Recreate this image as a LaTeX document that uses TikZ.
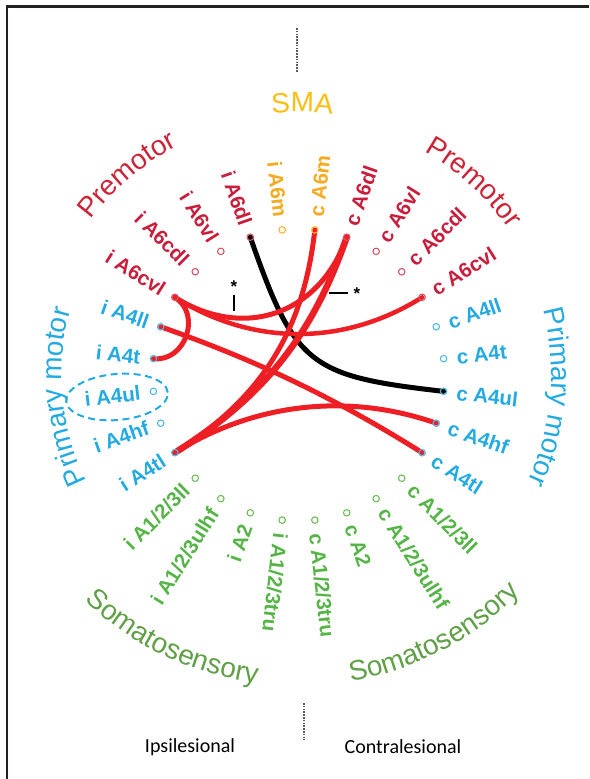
\documentclass[tikz,border=0pt]{standalone}
\usepackage{fontspec}
\setmainfont{Liberation Sans}
\newfontfamily\calib{Carlito}
\usetikzlibrary{calc,decorations.text,shapes.geometric,backgrounds}
\definecolor{pmL}{RGB}{200,30,60}
\definecolor{pmD}{RGB}{215,85,105}
\definecolor{pmG}{RGB}{205,35,55}
\definecolor{smaL}{RGB}{248,170,30}
\definecolor{smaD}{RGB}{248,180,60}
\definecolor{smaG}{RGB}{252,190,20}
\definecolor{mL}{RGB}{35,170,225}
\definecolor{mD}{RGB}{80,185,230}
\definecolor{mG}{RGB}{35,170,225}
\definecolor{sL}{RGB}{85,180,70}
\definecolor{sD}{RGB}{110,190,90}
\definecolor{sG}{RGB}{95,160,70}
\definecolor{edgered}{RGB}{237,30,36}
\definecolor{framecol}{RGB}{35,31,32}
\definecolor{dotgray}{RGB}{90,90,90}
\newcommand\grpfont{\fontsize{28}{30}\selectfont}
\newcommand\rnode[4]{%
  \node[dot=#4] (#2) at (#1:146) {};
  \node[lab=#4, anchor=west, rotate=#1] (#2-l) at (#1:159) {#3};}
\newcommand\lnode[4]{%
  \node[dot=#4] (#2) at (#1:146) {};
  \node[lab=#4, anchor=east, rotate=#1+180] (#2-l) at (#1:159) {#3};}
\newcommand\chordline[4][]{%
  \draw[edge,#1] (#2.center) .. controls ($(#2.center)!#4!(O)$) and ($(#3.center)!#4!(O)$) .. (#3.center);}
\begin{document}
\begin{tikzpicture}[x=1pt,y=1pt,
  dot/.style={circle, draw=#1D, line width=1.1pt, minimum size=6.5pt, inner sep=0pt},
  lab/.style={text=#1L, font=\bfseries\fontsize{20.5}{22}\selectfont, inner sep=0pt, text height=14.6pt, text depth=0pt},
  edge/.style={draw=edgered, line width=5pt, line cap=round},
  tick/.style={draw=black, line width=2pt},
  star/.style={font=\bfseries\fontsize{17}{17}\selectfont, inner sep=0pt},
  dotline/.style={draw=dotgray, line width=1.6pt, dash pattern=on 1.6pt off 1.2pt},
  bottomlab/.style={font=\calib\fontsize{20}{22}\selectfont, text=black}]
\useasboundingbox (-298.5,-404) rectangle (290.5,375);
\draw[framecol, line width=2.5pt] (-291.5,-404) -- (-291.5,368.5) -- (290.5,368.5);
\coordinate (O) at (0,0);

% right side (contralesional)
\rnode{83.5714}{cA6m}{c A6m}{sma}
\rnode{70.7143}{cA6dl}{c A6dl}{pm}
\rnode{57.8571}{cA6vl}{c A6vl}{pm}
\rnode{45}{cA6cdl}{c A6cdl}{pm}
\rnode{32.1429}{cA6cvl}{c A6cvl}{pm}
\rnode{19.2857}{cA4ll}{c A4ll}{m}
\rnode{6.4286}{cA4t}{c A4t}{m}
\rnode{-6.4286}{cA4ul}{c A4ul}{m}
\rnode{-19.2857}{cA4hf}{c A4hf}{m}
\rnode{-32.1429}{cA4tl}{c A4tl}{m}
\rnode{-45}{cSll}{c A1/2/3ll}{s}
\rnode{-57.8571}{cSulhf}{c A1/2/3ulhf}{s}
\rnode{-70.7143}{cStwo}{c A2}{s}
\rnode{-83.5714}{cStru}{c A1/2/3tru}{s}

% left side (ipsilesional)
\lnode{96.4286}{iA6m}{i A6m}{sma}
\lnode{109.2857}{iA6dl}{i A6dl}{pm}
\lnode{122.1429}{iA6vl}{i A6vl}{pm}
\lnode{135}{iA6cdl}{i A6cdl}{pm}
\lnode{147.8571}{iA6cvl}{i A6cvl}{pm}
\lnode{160.7143}{iA4ll}{i A4ll}{m}
\lnode{173.5714}{iA4t}{i A4t}{m}
\lnode{186.4286}{iA4ul}{i A4ul}{m}
\lnode{199.2857}{iA4hf}{i A4hf}{m}
\lnode{212.1429}{iA4tl}{i A4tl}{m}
\lnode{225}{iSll}{i A1/2/3ll}{s}
\lnode{237.8571}{iSulhf}{i A1/2/3ulhf}{s}
\lnode{250.7143}{iStwo}{i A2}{s}
\node[dot=s] (iStru) at (263.5714:146) {};
\node[lab=s, anchor=west, rotate=-96.4286] (iStru-l) at (263.5714:159) {i A1/2/3tru};

% dashed ellipse around i A4ul
\node[draw=mL, ellipse, line width=2pt, dash pattern=on 7pt off 4.5pt, minimum width=102pt, minimum height=46pt, rotate=5] (ell) at (-181.5,-22) {};

% connections
\begin{scope}[on background layer]
\chordline[draw=black, line width=5pt]{iA6dl}{cA4ul}{0.93}
\chordline[line width=4.5pt]{iA6cvl}{cA6cvl}{0.63}
\chordline{iA6cvl}{cA6dl}{0.56}
\chordline{iA6cvl}{iA4t}{0.22}
\chordline{iA4tl}{cA4hf}{0.64}
\chordline[line width=5pt]{iA4tl}{cA6m}{0.70}
\chordline[line width=6.5pt]{iA4tl}{cA6dl}{0.72}
\chordline{iA4ll}{cA4tl}{0.70}
\end{scope}

% significance marks
\coordinate (t1a) at (-64.5,80);
\coordinate (t1b) at (-64.5,64);
\draw[tick] (t1a) -- (t1b);
\node[star] (s1) at (-64.5,88) {*};
\coordinate (t2a) at (30.5,82);
\coordinate (t2b) at (49.5,82);
\draw[tick] (t2a) -- (t2b);
\node[star] (s2) at (58.5,81) {*};

% group labels
\path[decorate, decoration={text along path, text align=center, text color=pmG, text={|\grpfont|Premotor}}]
  (155.5:259) arc[start angle=155.5, end angle=105.5, radius=259];
\path[decorate, decoration={text along path, text align=center, text color=pmG, text={|\grpfont|Premotor}}]
  (72.7:256) arc[start angle=72.7, end angle=22.7, radius=256];
\path[decorate, decoration={text along path, text align=center, text color=smaG, text={|\grpfont|SMA}}]
  (114.2:263) arc[start angle=114.2, end angle=64.2, radius=263];
\path[decorate, decoration={text along path, text align=center, text color=mG, text={|\grpfont|Primary motor}}]
  (215.3:237) arc[start angle=215.3, end angle=155.3, radius=237];
\path[decorate, decoration={text along path, text align=center, text color=mG, text={|\grpfont|Primary motor}}]
  (25:253) arc[start angle=25, end angle=-35, radius=253];
\path[decorate, decoration={text along path, text align=center, text color=sG, text={|\grpfont|Somatosensory}}]
  (214.4:311) arc[start angle=214.4, end angle=274.4, radius=311];
\path[decorate, decoration={text along path, text align=center, text color=sG, text={|\grpfont|Somatosensory}}]
  (-92.4:311) arc[start angle=-92.4, end angle=-32.4, radius=311];

% midline and side labels
\coordinate (mt1) at (-1.5,347);
\coordinate (mt2) at (-1.5,303);
\draw[dotline] (mt1) -- (mt2);
\coordinate (mb1) at (5.5,-328);
\coordinate (mb2) at (5.5,-365);
\draw[dotline] (mb1) -- (mb2);
\node[bottomlab] (ipsi) at (-108.5,-372) {Ipsilesional};
\node[bottomlab] (contra) at (104.5,-372) {Contralesional};
\end{tikzpicture}
\end{document}
